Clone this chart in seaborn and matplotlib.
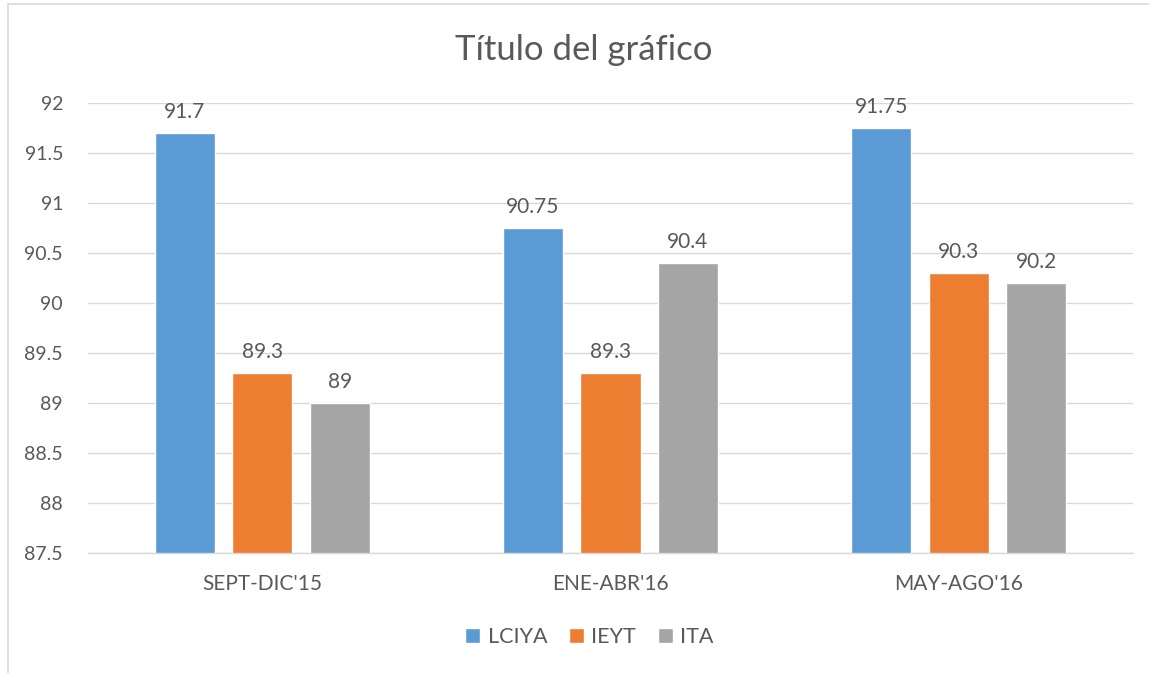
import matplotlib
matplotlib.use("Agg")
import matplotlib.pyplot as plt
import seaborn as sns
import pandas as pd
from matplotlib.patches import Rectangle

categories = ["SEPT-DIC'15", "ENE-ABR'16", "MAY-AGO'16"]
series_names = ["LCIYA", "IEYT", "ITA"]
lciya = [91.7, 90.75, 91.75]
ieyt = [89.3, 89.3, 90.3]
ita = [89.0, 90.4, 90.2]
yticks = [87.5, 88, 88.5, 89, 89.5, 90, 90.5, 91, 91.5, 92]
colors = ["#5B9BD5", "#ED7D31", "#A5A5A5"]

rows = []
for name, vals in zip(series_names, [lciya, ieyt, ita]):
    for c, v in zip(categories, vals):
        rows.append({"cat": c, "serie": name, "val": v})
df = pd.DataFrame(rows)

sns.set_theme(style="white")
plt.rcParams['font.family'] = ['Lato', 'DejaVu Sans']
txt = "#595959"

fig = plt.figure(figsize=(11.49, 6.73), dpi=100)
ax = fig.add_axes([0.0766, 0.178, 0.9094, 0.669])

sns.barplot(data=df, x="cat", y="val", hue="serie", palette=colors,
            width=0.6676, gap=0.222, ax=ax, legend=True, saturation=1)

ax.set_ylim(87.5, 92)
ax.set_xlim(-0.5, 2.5)
ax.set_yticks(yticks)
ax.set_yticklabels([f"{t:g}" for t in yticks], fontsize=14, color=txt)
ax.set_xticklabels(categories, fontsize=15, color=txt)
ax.set_xlabel("")
ax.set_ylabel("")
ax.tick_params(axis='y', length=0, pad=18)
ax.tick_params(axis='x', length=0, pad=15)
ax.yaxis.grid(True, color="#D9D9D9", linewidth=1)
ax.set_axisbelow(True)
for s in ["left", "right", "top"]:
    ax.spines[s].set_visible(False)
ax.spines["bottom"].set_color("#D9D9D9")
ax.spines["bottom"].set_linewidth(1)

for cont in ax.containers:
    ax.bar_label(cont, labels=[f"{v:g}" for v in cont.datavalues],
                 padding=8, fontsize=15, color=txt)

handles, labels = ax.get_legend_handles_labels()
ax.legend(handles, labels, loc="center", bbox_to_anchor=(0.513, 1 - 637 / 673),
          bbox_transform=fig.transFigure, ncol=3, frameon=False, fontsize=15.5,
          labelcolor=txt, handlelength=0.7, handleheight=0.7, handletextpad=0.35,
          columnspacing=1.0)

fig.text(0.508, 1 - 50 / 673, "Título del gráfico", ha="center", va="center",
         fontsize=25, color=txt)

fig.patches.append(Rectangle((8 / 1149, -0.01), 1.1, 1 - 4 / 673 + 0.01,
                             transform=fig.transFigure, fill=False,
                             edgecolor="#D9D9D9", linewidth=1.2))

fig.savefig("out.png", dpi=100)
